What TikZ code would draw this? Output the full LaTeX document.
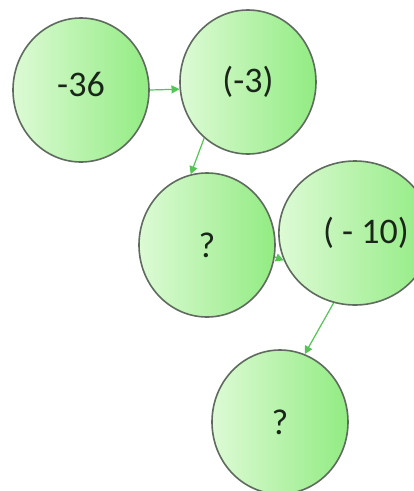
\documentclass[tikz,border=0pt]{standalone}
\usepackage{fontspec}
\setmainfont{Carlito}
\usetikzlibrary{arrows.meta,shapes.geometric}
\definecolor{rim}{HTML}{5E6B5E}
\definecolor{fillL}{HTML}{DDFAD5}
\definecolor{fillR}{HTML}{92EC82}
\definecolor{arr}{HTML}{52C652}
\definecolor{txt}{HTML}{1A261A}
\tikzset{
  bubble/.style={ellipse, draw=rim, line width=1.6pt, minimum width=136pt, minimum height=144pt,
    inner sep=0pt, left color=fillL, right color=fillR, text=txt,
    font=\fontsize{36}{40}\selectfont},
  link/.style={draw=arr, line width=1.2pt, -{Triangle[length=8pt,width=8pt]}}
}
\begin{document}
\begin{tikzpicture}[x=1pt,y=-1pt]
\useasboundingbox (0,0) rectangle (414,491);
\clip (0,0) rectangle (414,491);
\fill[white] (0,0) rectangle (414,491);
\node[bubble] (n1) at (81,90) {\raisebox{11pt}{-36}};
\node[bubble] (n2) at (248,82) {\raisebox{2pt}{(-3)}};
\node[bubble] (n3) at (207,245) {?};
\node[bubble] (n4) at (355,233) {\hspace{22pt}\raisebox{-4pt}{( - 10)}};
\node[bubble] (n5) at (280,422) {?};
\draw[link] (n1.0) -- (n2.186);
\draw[link] (n2.232) -- (n3.103);
\draw[link] (n3.-10) -- (n4.201);
\draw[link] (n4.253) -- (n5.70);
\end{tikzpicture}
\end{document}
